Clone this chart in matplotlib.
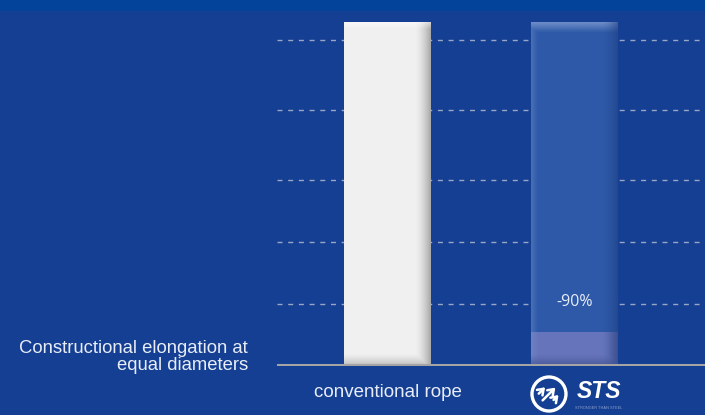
import numpy as np
import matplotlib.pyplot as plt
from matplotlib.patches import Circle, Rectangle, FancyArrowPatch
from matplotlib.transforms import IdentityTransform

# data: constructional elongation, conventional rope = 100 %
categories = ['conventional rope', 'STS']
elongation = [100, 10]
reduction_label = '-90%'
grid_levels = [18, 36, 54, 74.4, 94.8]
side_label = 'Constructional elongation at\nequal diameters'

BG = '#143f93'
TOP_BAND = '#03449a'
TXT = '#e8edf7'

W, H = 705, 415
fig = plt.figure(figsize=(W / 100, H / 100), dpi=100)
fig.patch.set_facecolor(BG)
fig.add_artist(Rectangle((0, 1 - 11 / H), 1, 11 / H, transform=fig.transFigure,
                         color=TOP_BAND, lw=0))

ax = fig.add_axes([277 / W, 49 / H, 428 / W, 355 / H])
ax.set_facecolor(BG)
for s in ax.spines.values():
    s.set_visible(False)
ax.set_xticks([])
ax.set_yticks([])

# dashed guide lines
for g in grid_levels:
    ax.axhline(g, color='#9aa6c4', lw=1.0, ls=(0, (3.6, 4.1)), zorder=1)

x = np.arange(len(categories))
width = 0.465

# conventional rope bar
b0 = ax.bar(x[0], elongation[0], width, color='#f0f0f0', zorder=2)[0]
# STS: ghost bar up to the conventional level, then the real value
b1 = ax.bar(x[1], elongation[0], width, color='#2d59a8', zorder=2)[0]
b2 = ax.bar(x[1], elongation[1], width, color='#6675bb', zorder=3)[0]


def shade(bar, color, right=0.0, left=0.0, top=0.0, bottom=0.0,
          fr=0.18, fb=0.035, z=4):
    # soft edge shading on top of a bar
    x0, y0 = bar.get_x(), bar.get_y()
    w, h = bar.get_width(), bar.get_height()
    xx = np.linspace(0, 1, 120)[None, :]
    yy = np.linspace(0, 1, 400)[:, None]  # 0 = top row
    a = np.zeros((400, 120))
    a = np.maximum(a, right * np.clip((xx - (1 - fr)) / fr, 0, 1) ** 1.6)
    a = np.maximum(a, left * np.clip((0.08 - xx) / 0.08, 0, 1))
    ft = fb * 100 / h
    a = np.maximum(a, top * np.clip((ft - yy) / ft, 0, 1))
    a = np.maximum(a, bottom * np.clip((yy - (1 - ft)) / ft, 0, 1) ** 1.3)
    rgb = np.array(plt.matplotlib.colors.to_rgb(color))
    img = np.zeros((400, 120, 4))
    img[..., :3] = rgb
    img[..., 3] = a
    ax.imshow(img, extent=(x0, x0 + w, y0, y0 + h), aspect='auto',
              interpolation='bilinear', zorder=z)


shade(b0, '#9c9c9c', right=0.85, bottom=0.6)
shade(b0, '#ffffff', top=0.5, fb=0.02)
shade(b1, '#7f9ad0', top=0.8, left=0.35, fb=0.03)
shade(b1, '#1d3b7c', right=0.55)
shade(b2, '#3c4b8c', bottom=0.7, right=0.4, fb=0.035, z=5)

ax.set_xlim(-0.591, 1.698)
ax.set_ylim(0, 103.2)

# baseline
ax.axhline(0.2, color='#a4a4a4', lw=2.2, zorder=6)

ax.text(x[1], grid_levels[0] + 0.6, reduction_label, ha='center', va='center',
        color=TXT, fontsize=11.5, family=['Open Sans', 'DejaVu Sans'], zorder=7)

fig.text(248 / W, (H - 357) / H, side_label, ha='right', va='center', color=TXT,
         fontsize=13.3, linespacing=0.95, family=['Liberation Sans', 'DejaVu Sans'])

ax.annotate(categories[0], xy=(x[0], 0), xytext=(0, -26), textcoords='offset pixels',
            ha='center', va='center', color=TXT, fontsize=13.5,
            family=['Liberation Sans', 'DejaVu Sans'], annotation_clip=False)

# STS logo
ax.annotate('STS', xy=(x[1], 0), xytext=(2, -25), textcoords='offset pixels',
            ha='left', va='center', color='white', fontsize=16.5, fontweight='bold',
            fontstyle='italic', family=['Liberation Sans', 'DejaVu Sans'],
            annotation_clip=False)
ax.annotate('STRONGER THAN STEEL', xy=(x[1], 0), xytext=(1, -42), textcoords='offset pixels',
            ha='left', va='center', color='#8fa0cc', fontsize=2.8,
            family=['Liberation Sans', 'DejaVu Sans'], annotation_clip=False)

cx, cy = ax.transData.transform((x[1], 0))
cx, cy = cx - 25.5, cy - 28
fig.add_artist(Circle((cx, cy), 17, transform=IdentityTransform(), fill=False,
                      ec='white', lw=2.4))
d = np.array([1, 1]) / np.sqrt(2)
n = np.array([-1, 1]) / np.sqrt(2)
for k, a0, a1 in ((-7.5, 1, 6), (0, 9, 9), (7.5, 7, 2)):
    p0 = np.array([cx, cy]) + n * k - d * a0
    p1 = np.array([cx, cy]) + n * k + d * a1
    fig.add_artist(FancyArrowPatch(p0, p1, transform=IdentityTransform(),
                                   arrowstyle='->,head_length=2.8,head_width=2.0',
                                   color='white', lw=1.8, mutation_scale=1.4,
                                   shrinkA=0, shrinkB=0))

fig.savefig('out.png', dpi=100, facecolor=BG)
